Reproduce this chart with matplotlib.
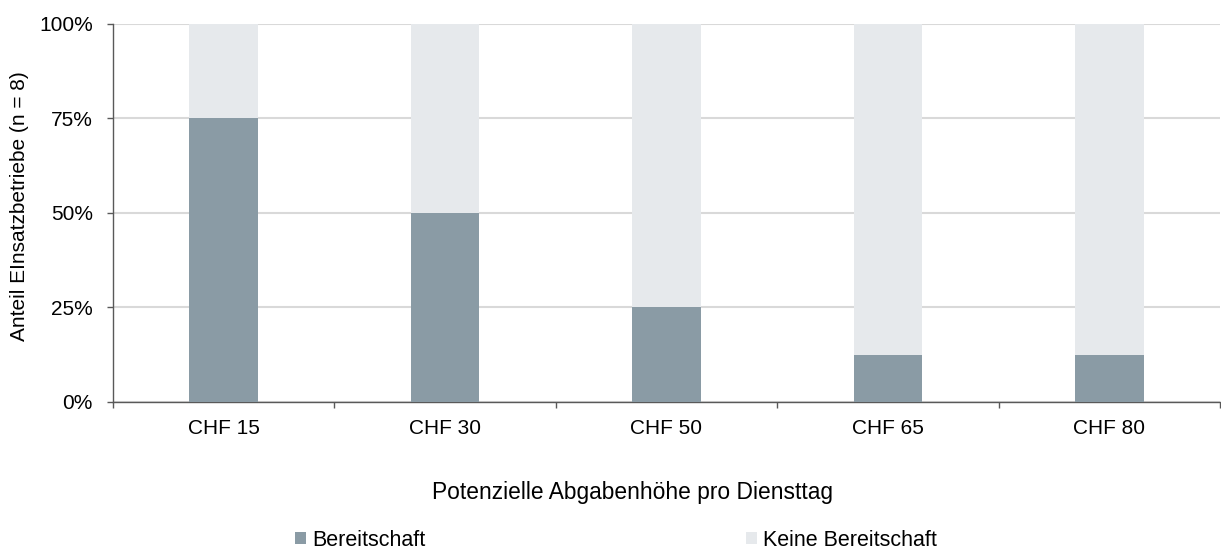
import numpy as np
import matplotlib.pyplot as plt
from matplotlib.ticker import FixedLocator, FuncFormatter

# Anteil Einsatzbetriebe mit / ohne Bereitschaft je Abgabenhöhe
categories = ['CHF 15', 'CHF 30', 'CHF 50', 'CHF 65', 'CHF 80']
bereit = [75.0, 50.0, 25.0, 12.5, 12.5]
keine = [25.0, 50.0, 75.0, 87.5, 87.5]

c_bereit = '#8a9ba5'
c_keine = '#e6e9ec'

plt.rcParams['font.family'] = ['Liberation Sans', 'DejaVu Sans']
plt.rcParams['font.size'] = 15

fig = plt.figure(figsize=(12.21, 5.49), dpi=100)
ax = fig.add_axes([0.0925, 0.268, 0.9067, 0.6883])

x = np.arange(len(categories))
w = 0.31
ax.bar(x, bereit, w, color=c_bereit, label='Bereitschaft', zorder=3)
ax.bar(x, keine, w, bottom=bereit, color=c_keine, label='Keine Bereitschaft', zorder=3)

ax.set_xlim(-0.5, len(categories) - 0.5)
ax.set_ylim(0, 100)
ax.set_yticks([0, 25, 50, 75, 100])
ax.yaxis.set_major_formatter(FuncFormatter(lambda v, p: f'{v:.0f}%'))
ax.yaxis.grid(True, color='#d9d9d9', linewidth=1.5, zorder=0)

# labels in der Mitte, Ticks an den Kategoriegrenzen
ax.set_xticks(x)
ax.set_xticklabels(categories)
ax.tick_params(axis='x', which='major', length=0, pad=12)
ax.xaxis.set_minor_locator(FixedLocator(np.arange(-0.5, len(categories), 1.0)))
ax.tick_params(axis='x', which='minor', length=4.5, color='#595959', width=1)
ax.tick_params(axis='y', length=4.5, color='#595959', width=1, pad=10)

for s in ['top', 'right']:
    ax.spines[s].set_visible(False)
for s in ['left', 'bottom']:
    ax.spines[s].set_color('#595959')
    ax.spines[s].set_linewidth(1)

fig.text(20 / 1221, 1 - 206 / 549, 'Anteil EInsatzbetriebe (n = 8)',
         rotation=90, ha='center', va='center', fontsize=15)
fig.text(633 / 1221, 1 - 492 / 549, 'Potenzielle Abgabenhöhe pro Diensttag',
         ha='center', va='center', fontsize=16.4)

handles, labels = ax.get_legend_handles_labels()
fig.legend(handles, labels, loc='center left', bbox_to_anchor=(295 / 1221, 1 - 540 / 549),
           ncol=2, frameon=False, fontsize=15.5, borderpad=0, borderaxespad=0,
           handlelength=0.51, handleheight=0.51, handletextpad=0.28,
           columnspacing=14.9)

fig.savefig('out.png', dpi=100)
